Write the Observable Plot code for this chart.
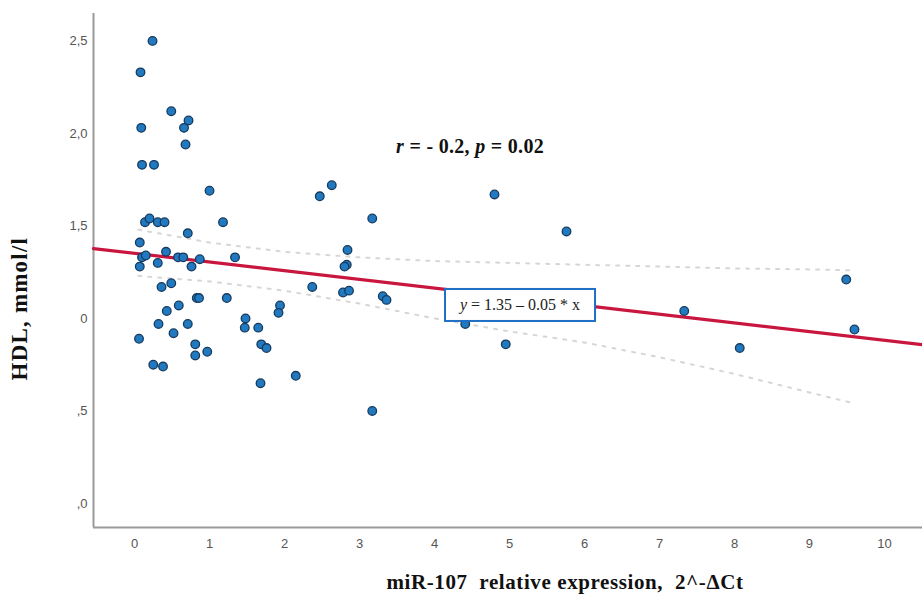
<!DOCTYPE html>
<html>
<head>
<meta charset="utf-8">
<script src="https://cdn.jsdelivr.net/npm/d3@7"></script>
<script src="https://cdn.jsdelivr.net/npm/@observablehq/plot@0.6"></script>
<style>
  html, body { margin: 0; padding: 0; background: #fff; }
  #chart svg { display: block; }
</style>
</head>
<body>
<div id="chart"></div>
<script>
// Expression (2^-ΔCt) and HDL (mmol/l)
const xVals = [0.24,0.08,0.49,0.72,0.66,0.09,0.68,0.10,0.26,1.00,
  0.14,0.20,0.31,0.40,1.18,0.71,0.07,0.42,0.10,0.15,
  0.58,0.65,0.87,1.34,0.07,0.31,0.76,0.36,0.49,0.83,
  0.86,1.23,0.43,0.59,0.32,0.71,0.52,0.06,0.81,0.81,
  0.97,0.25,0.38,2.47,2.63,3.17,2.84,2.83,2.80,2.37,
  2.78,2.86,3.31,3.36,1.94,1.92,1.48,1.47,1.65,1.69,
  1.76,1.68,2.15,3.17,4.80,5.76,4.41,4.95,7.33,8.07,
  9.49,9.60];
const yVals = [2.50,2.33,2.12,2.07,2.03,2.03,1.94,1.83,1.83,1.69,
  1.52,1.54,1.52,1.52,1.52,1.46,1.41,1.36,1.33,1.34,
  1.33,1.33,1.32,1.33,1.28,1.30,1.28,1.17,1.19,1.11,
  1.11,1.11,1.04,1.07,0.97,0.97,0.92,0.89,0.86,0.80,
  0.82,0.75,0.74,1.66,1.72,1.54,1.37,1.29,1.28,1.17,
  1.14,1.15,1.12,1.10,1.07,1.03,1.00,0.95,0.95,0.86,
  0.84,0.65,0.69,0.50,1.67,1.47,0.97,0.86,1.04,0.84,
  1.21,0.94];

// Regression fit and its confidence band
const fitIntercept = 1.352;
const fitSlope = -0.047;
const ciX     = [0.05, 1, 2, 3, 4, 5, 6, 7, 8, 9, 9.6];
const ciUpper = [1.48, 1.41, 1.36, 1.33, 1.31, 1.30, 1.29, 1.28, 1.27, 1.265, 1.26];
const ciLower = [1.23, 1.20, 1.15, 1.08, 1.00, 0.93, 0.87, 0.79, 0.70, 0.60, 0.54];

// Axes
const xDomain = [-0.547, 10.507];
const yDomain = [-0.13, 2.648];
const xTicks = [0,1,2,3,4,5,6,7,8,9,10];
const yTicks = [0, 0.5, 1.0, 1.5, 2.0, 2.5];
const yTickLabels = [",0", ",5", "0", "1,5", "2,0", "2,5"];

// Texts
const statX = 4.48, statY = 1.89;
const eqX = 5.147, eqY = 1.07;
const eqText = "= 1.35 \u2013 0.05 * x";
const xTitle = "miR-107  relative expression,  2^-\u0394Ct";
const yTitle = "HDL, mmol/l";

const points = xVals.map((x, i) => ({x, y: yVals[i]}));
const fitLine = xDomain.map(x => ({x, y: fitIntercept + fitSlope * x}));
const upperBand = ciX.map((x, i) => ({x, y: ciUpper[i]}));
const lowerBand = ciX.map((x, i) => ({x, y: ciLower[i]}));

const plot = Plot.plot({
  width: 922,
  height: 598,
  marginLeft: 93,
  marginRight: 0,
  marginTop: 13,
  marginBottom: 71,
  style: {fontFamily: "'Liberation Sans', Arial, sans-serif", fontSize: "13px", color: "#555", background: "#fff"},
  x: {domain: xDomain, ticks: xTicks},
  y: {domain: yDomain, ticks: yTicks},
  marks: [
    Plot.ruleX([xDomain[0]], {stroke: "#9a9a9a", strokeWidth: 2}),
    Plot.ruleY([yDomain[0]], {stroke: "#9a9a9a", strokeWidth: 2}),
    Plot.axisX({ticks: xTicks, tickSize: 0, tickPadding: 11, label: null, fill: "#555"}),
    Plot.axisY({ticks: yTicks, tickSize: 0, tickPadding: 6, label: null, fill: "#555",
      tickFormat: d => yTickLabels[yTicks.indexOf(d)]}),
    Plot.line(upperBand, {x: "x", y: "y", stroke: "#d6d6d6", strokeWidth: 2, strokeDasharray: "3,7"}),
    Plot.line(lowerBand, {x: "x", y: "y", stroke: "#d6d6d6", strokeWidth: 2, strokeDasharray: "3,7"}),
    Plot.line(fitLine, {x: "x", y: "y", stroke: "#c8163f", strokeWidth: 3.2}),
    Plot.dot(points, {x: "x", y: "y", r: 4.3, fill: "#2179bf", stroke: "#163a5e", strokeWidth: 1.3})
  ]
});

document.getElementById("chart").appendChild(plot);

const svg = d3.select(plot);
const sx = plot.scale("x"), sy = plot.scale("y");
const serif = "'Liberation Serif', 'DejaVu Serif', serif";

// Correlation statistic
const st = svg.append("text")
  .attr("x", sx.apply(statX)).attr("y", sy.apply(statY))
  .attr("text-anchor", "middle")
  .attr("font-family", serif).attr("font-weight", "bold").attr("font-size", 20)
  .attr("letter-spacing", 0.3).attr("fill", "#111");
st.append("tspan").attr("font-style", "italic").text("r");
st.append("tspan").text(" = - 0.2, ");
st.append("tspan").attr("font-style", "italic").text("p");
st.append("tspan").text(" = 0.02");

// Equation box
const bx = sx.apply(eqX), by = sy.apply(eqY);
svg.append("rect")
  .attr("x", bx - 75).attr("y", by - 16).attr("width", 150).attr("height", 32)
  .attr("fill", "#fff").attr("stroke", "#1f6fc4").attr("stroke-width", 2);
const et = svg.append("text")
  .attr("x", bx).attr("y", by + 5)
  .attr("text-anchor", "middle")
  .attr("font-family", serif).attr("font-size", 16).attr("fill", "#222");
et.append("tspan").attr("font-style", "italic").text("y");
et.append("tspan").text(" " + eqText);

// Axis titles
svg.append("text")
  .attr("x", 565).attr("y", 589)
  .attr("text-anchor", "middle")
  .attr("font-family", serif).attr("font-weight", "bold").attr("font-size", 21)
  .attr("letter-spacing", 0.6).attr("fill", "#111")
  .text(xTitle);
svg.append("text")
  .attr("transform", `translate(27, ${sy.apply(1.05)}) rotate(-90)`)
  .attr("text-anchor", "middle")
  .attr("font-family", serif).attr("font-weight", "bold").attr("font-size", 23)
  .attr("letter-spacing", 1.2).attr("fill", "#111")
  .text(yTitle);
</script>
</body>
</html>
